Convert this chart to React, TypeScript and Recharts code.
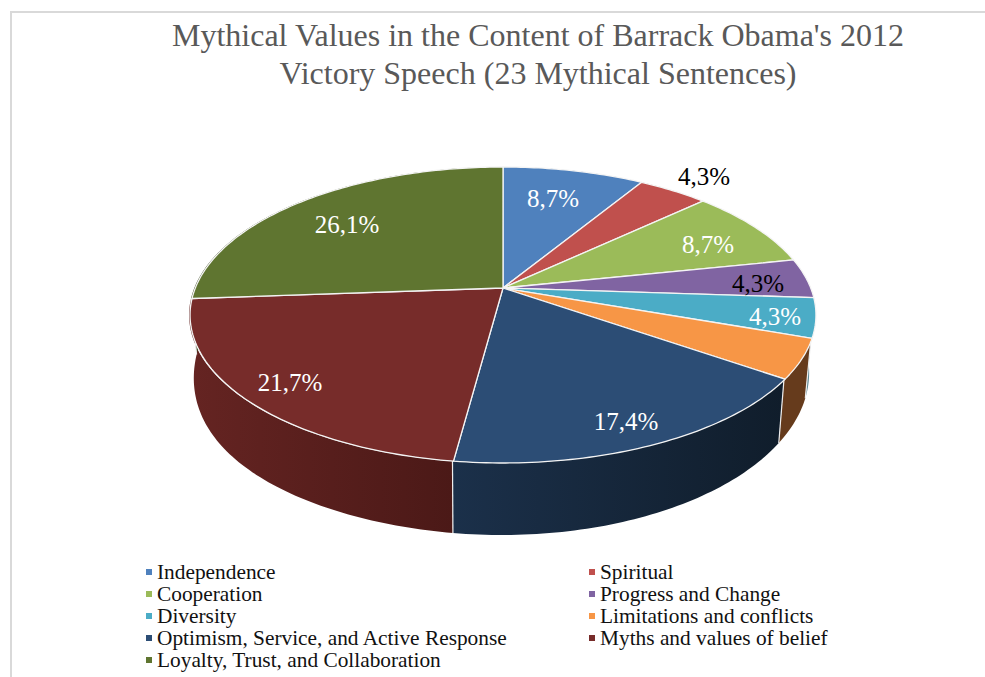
import React from 'react';
import { PieChart, Pie, Legend } from 'recharts';

const categories = [
  'Independence',
  'Spiritual',
  'Cooperation',
  'Progress and Change',
  'Diversity',
  'Limitations and conflicts',
  'Optimism, Service, and Active Response',
  'Myths and values of belief',
  'Loyalty, Trust, and Collaboration',
];
const shares = [8.7, 4.3, 8.7, 4.3, 4.3, 4.3, 17.4, 21.7, 26.1];
const titleLines = ["Mythical Values in the Content of Barrack Obama's 2012", 'Victory Speech (23 Mythical Sentences)'];

const topColors = ['#4f81bd', '#c0504d', '#9bbb59', '#8064a2', '#4bacc6', '#f79646', '#2c4d75', '#772c2a', '#5f7530'];
const wallFrom = ['#2f4d71', '#73302e', '#5d7035', '#4d3c61', '#5d8894', '#663b1c', '#1b304a', '#652422', '#39461d'];
const wallTo = ['#2f4d71', '#73302e', '#5d7035', '#4d3c61', '#5d8894', '#663b1c', '#101d2b', '#4b1917', '#39461d'];

// Label centres and ink; the orange slice carries no label in this chart
const labelCenters: ([number, number] | null)[] = [
  [553, 198], [704, 176], [708, 244], [758, 283], [775, 316], null, [626, 421], [290, 382], [347, 224],
];
const labelInk = ['#fff', '#000', '#fff', '#000', '#fff', '#fff', '#fff', '#fff', '#fff'];

const pieData = categories.map((name, i) => ({ name, value: shares[i], fill: topColors[i] }));

// Perspective tilt of the disc: rim circle maps through a homography with depth factor K
const K = 0.1824;
const TOP_RIM = { b: 307.7, a: 143.07, drop: 0, lean: 0 };
const BASE_RIM = { b: 302, a: 157, drop: 55, lean: 7 };

type Rim = typeof TOP_RIM;

function rimPoint(cx: number, cy: number, angle: number, rim: Rim): [number, number] {
  // angle is in recharts degrees (counter-clockwise from east)
  const t = ((90 - angle) * Math.PI) / 180;
  const d = 1 + K * Math.cos(t);
  // the lower left of the base bulges out a little further than the right
  const bulge = Math.sin(t) < 0 ? rim.lean * Math.sin(2 * t) ** 2 : 0;
  return [cx + (rim.b * Math.sin(t)) / d - bulge, cy + rim.drop - (rim.a * Math.cos(t)) / d];
}

function arcPoints(cx: number, cy: number, from: number, to: number, rim: Rim) {
  const steps = Math.max(2, Math.ceil(Math.abs(to - from)));
  const pts: [number, number][] = [];
  for (let i = 0; i <= steps; i++) pts.push(rimPoint(cx, cy, from + ((to - from) * i) / steps, rim));
  return pts;
}

const toPath = (pts: [number, number][]) =>
  pts.map((p, i) => `${i ? 'L' : 'M'}${p[0].toFixed(2)},${p[1].toFixed(2)}`).join(' ');

function TopSlice(props: any) {
  const { cx, cy, startAngle, endAngle, fill } = props;
  const rim = arcPoints(cx, cy, startAngle, endAngle, TOP_RIM);
  return <path d={`M${cx},${cy} ${toPath(rim).replace('M', 'L')} Z`} fill={fill} stroke="#f4f4f4" strokeWidth={1.3} strokeLinejoin="round" />;
}

function WallSlice(props: any) {
  const { cx, cy, startAngle, endAngle, index } = props;
  const upper = arcPoints(cx, cy, startAngle, endAngle, TOP_RIM);
  const lower = arcPoints(cx, cy, startAngle, endAngle, BASE_RIM).reverse();
  const seamTop = rimPoint(cx, cy, startAngle, TOP_RIM);
  const seamBottom = rimPoint(cx, cy, startAngle, BASE_RIM);
  return (
    <g>
      <path d={`${toPath([...upper, ...lower])} Z`} fill={`url(#wall-${index})`} stroke="none" />
      <path d={toPath([seamTop, seamBottom])} stroke="#eeeeee" strokeWidth={1.2} fill="none" />
    </g>
  );
}

function renderShareLabel(props: any) {
  const at = labelCenters[props.index];
  if (!at) return null;
  return (
    <text x={at[0]} y={at[1]} textAnchor="middle" dominantBaseline="central" fontFamily="'Liberation Serif', serif" fontSize={25} fill={labelInk[props.index]}>
      {shares[props.index].toFixed(1).replace('.', ',')}%
    </text>
  );
}

function LegendGrid() {
  return (
    <div style={{ display: 'grid', gridTemplateColumns: '443px 300px', gridAutoRows: '22px', fontFamily: "'Liberation Serif', serif", fontSize: 21.35, color: '#111', lineHeight: '22px' }}>
      {categories.map((name, i) => (
        <div key={name} style={{ display: 'flex', alignItems: 'center', whiteSpace: 'nowrap' }}>
          <span style={{ width: 6, height: 6, background: topColors[i], marginRight: 5, flex: 'none' }} />
          {name}
        </div>
      ))}
    </div>
  );
}

export default function App() {
  return (
    <div style={{ position: 'absolute', left: 0, top: 0, width: 985, height: 677, overflow: 'hidden', background: '#fff' }}>
      {/* chart frame: only the top and left edges fall inside the page */}
      <div style={{ position: 'absolute', left: 10, top: 11, right: -4, bottom: -4, borderTop: '2px solid #d9d9d9', borderLeft: '2px solid #d9d9d9' }} />
      <PieChart width={985} height={677} margin={{ top: 0, right: 0, bottom: 0, left: 0 }} style={{ position: 'absolute', left: 0, top: 0 }}>
        <defs>
          {categories.map((name, i) => (
            <linearGradient key={name} id={`wall-${i}`} x1="0" y1="0" x2="1" y2="0">
              <stop offset="0" stopColor={wallFrom[i]} />
              <stop offset="1" stopColor={wallTo[i]} />
            </linearGradient>
          ))}
        </defs>
        <text x={538} textAnchor="middle" fontFamily="'Liberation Serif', serif" fontSize={32} fill="#595959">
          <tspan x={538} y={46}>{titleLines[0]}</tspan>
          <tspan x={538} y={84}>{titleLines[1]}</tspan>
        </text>
        <Pie
          data={pieData}
          dataKey="value"
          nameKey="name"
          cx={502}
          cy={288}
          outerRadius={313}
          startAngle={90}
          endAngle={-270}
          legendType="none"
          isAnimationActive={false}
          shape={WallSlice}
        />
        <Pie
          data={pieData}
          dataKey="value"
          nameKey="name"
          cx={503}
          cy={288}
          outerRadius={313}
          startAngle={90}
          endAngle={-270}
          isAnimationActive={false}
          shape={TopSlice}
          label={renderShareLabel}
          labelLine={false}
        />
        <Legend content={<LegendGrid />} wrapperStyle={{ position: 'absolute', left: 146, top: 561, width: 760, bottom: 'auto' }} />
      </PieChart>
    </div>
  );
}
